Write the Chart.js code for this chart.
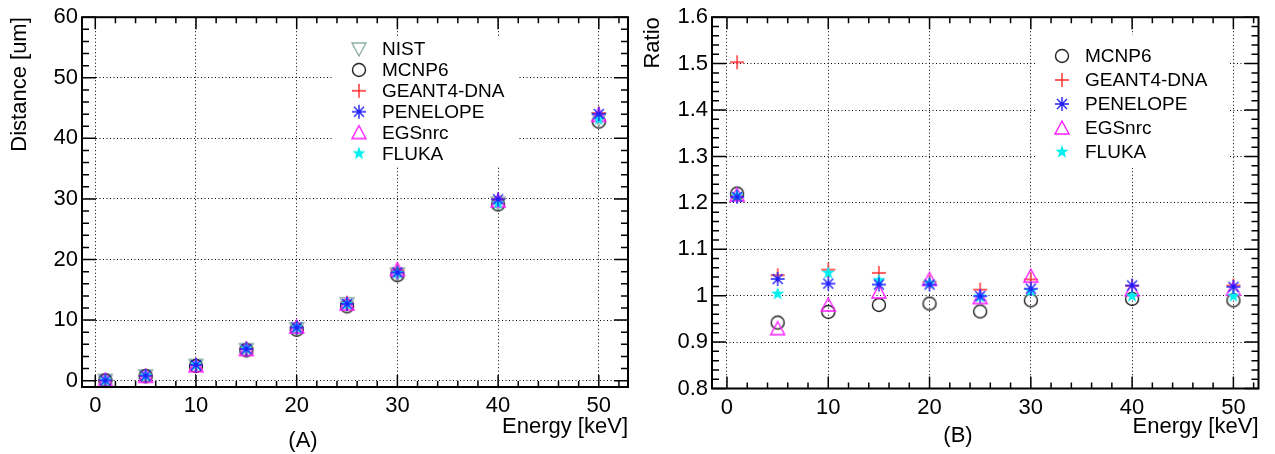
<!DOCTYPE html>
<html>
<head>
<title>Distance and ratio vs energy</title>
<script src="https://cdn.jsdelivr.net/npm/chart.js@4.4.1/dist/chart.umd.min.js"></script>
<style>
  body { margin: 0; background: #fff; }
  .box { position: absolute; top: 0; height: 454px; }
</style>
</head>
<body>
<div class="box" style="left:0;width:640px"><canvas id="chartA"></canvas></div>
<div class="box" style="left:640px;width:635px"><canvas id="chartB"></canvas></div>

<script>
// beam energies [keV]
var energies = [1, 5, 10, 15, 20, 25, 30, 40, 50];

// (A) distance [um]
var distNIST     = [0.05, 0.79, 2.52, 5.12, 8.57, 12.7, 17.6, 29.3, 43.2];
var distMCNP6    = [0.061, 0.744, 2.43, 5.02, 8.42, 12.27, 17.42, 29.09, 42.77];
var distGEANT4   = [0.075, 0.825, 2.66, 5.37, 8.83, 12.87, 18.22, 29.92, 44.15];
var distPENELOPE = [0.061, 0.818, 2.59, 5.24, 8.78, 12.69, 17.86, 29.94, 44.02];
var distEGSnrc   = [0.061, 0.734, 2.47, 5.16, 8.87, 12.65, 18.34, 29.68, 43.80];
var distFLUKA    = [0.061, 0.793, 2.64, 5.29, 8.80, 12.67, 17.78, 29.27, 43.16];

// (B) ratio to NIST
var ratioMCNP6    = [1.220, 0.942, 0.965, 0.980, 0.983, 0.966, 0.990, 0.993, 0.990];
var ratioGEANT4   = [1.503, 1.044, 1.056, 1.049, 1.030, 1.013, 1.035, 1.021, 1.022];
var ratioPENELOPE = [1.213, 1.036, 1.026, 1.024, 1.024, 0.999, 1.015, 1.022, 1.019];
var ratioEGSnrc   = [1.217, 0.929, 0.980, 1.008, 1.035, 0.996, 1.042, 1.013, 1.014];
var ratioFLUKA    = [1.216, 1.004, 1.049, 1.033, 1.027, 0.998, 1.010, 0.999, 0.999];

// tick labels
var energyTicks = [0, 10, 20, 30, 40, 50];
var distTicks = [0, 10, 20, 30, 40, 50, 60];
var ratioTicks = [0.8, 0.9, 1.0, 1.1, 1.2, 1.3, 1.4, 1.5, 1.6];

var FONT = "'Liberation Sans', Arial, sans-serif";

// ROOT-like marker images
function marker(kind, color) {
    var c = document.createElement('canvas');
    c.width = 20; c.height = 20;
    var g = c.getContext('2d');
    g.translate(10, 10);
    g.strokeStyle = color;
    g.fillStyle = color;
    g.lineWidth = 1.4;
    g.beginPath();
    if (kind === 'circle') {
        g.arc(0, 0, 6.5, 0, 2 * Math.PI);
    } else if (kind === 'plus') {
        g.moveTo(-7, 0); g.lineTo(7, 0);
        g.moveTo(0, -7); g.lineTo(0, 7);
    } else if (kind === 'asterisk') {
        g.moveTo(-7, 0); g.lineTo(7, 0);
        g.moveTo(0, -7); g.lineTo(0, 7);
        g.moveTo(-5, -5); g.lineTo(5, 5);
        g.moveTo(-5, 5); g.lineTo(5, -5);
    } else if (kind === 'tri') {
        g.moveTo(0, -7); g.lineTo(7, 6); g.lineTo(-7, 6); g.closePath();
    } else if (kind === 'triDown') {
        g.moveTo(0, 7); g.lineTo(7, -6); g.lineTo(-7, -6); g.closePath();
    } else if (kind === 'star') {
        for (var i = 0; i < 10; i++) {
            var r = i % 2 ? 2.8 : 7;
            var a = -Math.PI / 2 + i * Math.PI / 5;
            if (i === 0) g.moveTo(r * Math.cos(a), r * Math.sin(a));
            else g.lineTo(r * Math.cos(a), r * Math.sin(a));
        }
        g.closePath();
        g.fill();
        return c;
    }
    g.stroke();
    return c;
}

var mk = {
    NIST: marker('triDown', '#8fb0a8'),
    MCNP6: marker('circle', '#222222'),
    'GEANT4-DNA': marker('plus', '#ff2a2a'),
    PENELOPE: marker('asterisk', '#1f1fff'),
    EGSnrc: marker('tri', '#ff1aff'),
    FLUKA: marker('star', '#00f0f0')
};
var drawOrder = { NIST: 5, MCNP6: 4, 'GEANT4-DNA': 3, EGSnrc: 2, FLUKA: 1, PENELOPE: 0 };

function pts(values) {
    return energies.map(function (e, i) { return { x: e, y: values[i] }; });
}

function makeDataset(name, values) {
    return {
        label: name,
        data: pts(values),
        pointStyle: mk[name],
        pointRadius: 7,
        showLine: false,
        order: drawOrder[name]
    };
}

// frame and inward tick marks, ROOT style
function frameTicks(xMajor, xMinor, yMajor, yMinor) {
    return {
        id: 'frameTicks',
        afterDraw: function (chart) {
            var a = chart.chartArea, ctx = chart.ctx;
            var xs = chart.scales.x, ys = chart.scales.y;
            ctx.save();
            ctx.strokeStyle = '#000';
            ctx.lineWidth = 1.5;
            ctx.beginPath();
            var k, v, p, len;
            for (k = Math.ceil(xs.min / xMinor - 1e-9); k * xMinor <= xs.max + 1e-9; k++) {
                v = k * xMinor;
                p = xs.getPixelForValue(v);
                len = Math.abs(v / xMajor - Math.round(v / xMajor)) < 1e-6 ? 12 : 6;
                ctx.moveTo(p, a.bottom); ctx.lineTo(p, a.bottom - len);
                ctx.moveTo(p, a.top); ctx.lineTo(p, a.top + len);
            }
            for (k = Math.ceil(ys.min / yMinor - 1e-9); k * yMinor <= ys.max + 1e-9; k++) {
                v = k * yMinor;
                p = ys.getPixelForValue(v);
                len = Math.abs(v / yMajor - Math.round(v / yMajor)) < 1e-6 ? 14 : 7;
                ctx.moveTo(a.left, p); ctx.lineTo(a.left + len, p);
                ctx.moveTo(a.right, p); ctx.lineTo(a.right - len, p);
            }
            ctx.stroke();
            ctx.lineWidth = 2;
            ctx.strokeRect(a.left, a.top, a.right - a.left, a.bottom - a.top);
            ctx.restore();
        }
    };
}

// legend with white background, drawn over grid but under markers
function legendBox(box, names, mx, tx, y0, dy, caption, cx, cy) {
    return {
        id: 'legendBox',
        beforeDatasetsDraw: function (chart) {
            var ctx = chart.ctx;
            ctx.save();
            ctx.fillStyle = '#fff';
            ctx.fillRect(box[0], box[1], box[2], box[3]);
            ctx.font = '19px ' + FONT;
            ctx.fillStyle = '#000';
            ctx.textBaseline = 'middle';
            names.forEach(function (n, i) {
                var y = y0 + i * dy;
                ctx.drawImage(mk[n], mx - 10, y - 10);
                ctx.fillText(n, tx, y + 1);
            });
            ctx.restore();
        },
        afterDraw: function (chart) {
            var ctx = chart.ctx;
            ctx.save();
            ctx.font = '22px ' + FONT;
            ctx.fillStyle = '#000';
            ctx.textAlign = 'center';
            ctx.textBaseline = 'middle';
            ctx.fillText(caption, cx, cy);
            ctx.restore();
        }
    };
}

function tickFmt(v) { return String(+v.toFixed(2)); }

function axes(xMin, xMax, yMin, yMax, yTicks, yTitle, yTitlePad, yWidth, xHeight) {
    return {
        x: {
            type: 'linear', min: xMin, max: xMax,
            afterBuildTicks: function (s) { s.ticks = energyTicks.map(function (v) { return { value: v }; }); },
            afterFit: function (s) { s.height = xHeight; },
            grid: { color: '#000', lineWidth: 1, drawTicks: false },
            border: { display: false, dash: [1, 2.5] },
            ticks: { color: '#000', font: { family: FONT, size: 22 }, padding: 6, maxRotation: 0, callback: tickFmt },
            title: { display: true, text: 'Energy [keV]', align: 'end', color: '#000',
                     font: { family: FONT, size: 22 }, padding: { top: 0, bottom: 14 } }
        },
        y: {
            type: 'linear', min: yMin, max: yMax,
            afterBuildTicks: function (s) { s.ticks = yTicks.map(function (v) { return { value: v }; }); },
            afterFit: function (s) { s.width = yWidth; },
            grid: { color: '#000', lineWidth: 1, drawTicks: false },
            border: { display: false, dash: [1, 2.5] },
            ticks: { color: '#000', font: { family: FONT, size: 22 }, padding: 4, callback: tickFmt },
            title: { display: true, text: yTitle, align: 'end', color: '#000',
                     font: { family: FONT, size: 22 }, padding: { top: yTitlePad, bottom: 0 } }
        }
    };
}

var common = {
    responsive: true,
    maintainAspectRatio: false,
    animation: false,
    events: [],
    plugins: { legend: { display: false }, tooltip: { enabled: false } }
};

// (A) distance
new Chart(document.getElementById('chartA'), {
    type: 'scatter',
    data: {
        datasets: [
            makeDataset('NIST', distNIST),
            makeDataset('MCNP6', distMCNP6),
            makeDataset('GEANT4-DNA', distGEANT4),
            makeDataset('PENELOPE', distPENELOPE),
            makeDataset('EGSnrc', distEGSnrc),
            makeDataset('FLUKA', distFLUKA)
        ]
    },
    options: Object.assign({}, common, {
        layout: { padding: { left: 0, right: 12, top: 16, bottom: 0 } },
        scales: axes(-1.32, 52.9, -1.04, 60, distTicks, 'Distance [um]', 7, 82, 67)
    }),
    plugins: [
        frameTicks(10, 2, 10, 2),
        legendBox([333, 37, 185, 130],
                  ['NIST', 'MCNP6', 'GEANT4-DNA', 'PENELOPE', 'EGSnrc', 'FLUKA'],
                  359, 382, 49, 20.9, '(A)', 303, 441)
    ]
});

// (B) ratio
new Chart(document.getElementById('chartB'), {
    type: 'scatter',
    data: {
        datasets: [
            makeDataset('MCNP6', ratioMCNP6),
            makeDataset('GEANT4-DNA', ratioGEANT4),
            makeDataset('PENELOPE', ratioPENELOPE),
            makeDataset('EGSnrc', ratioEGSnrc),
            makeDataset('FLUKA', ratioFLUKA)
        ]
    },
    options: Object.assign({}, common, {
        layout: { padding: { left: 0, right: 16.5, top: 16, bottom: 0 } },
        scales: axes(-1.48, 52.48, 0.8, 1.6, ratioTicks, 'Ratio', 0, 72, 65.5)
    }),
    plugins: [
        frameTicks(10, 2, 0.1, 0.02),
        legendBox([396, 35, 192, 133],
                  ['MCNP6', 'GEANT4-DNA', 'PENELOPE', 'EGSnrc', 'FLUKA'],
                  422, 445, 56, 24, '(B)', 318, 436)
    ]
});
</script>
</body>
</html>
